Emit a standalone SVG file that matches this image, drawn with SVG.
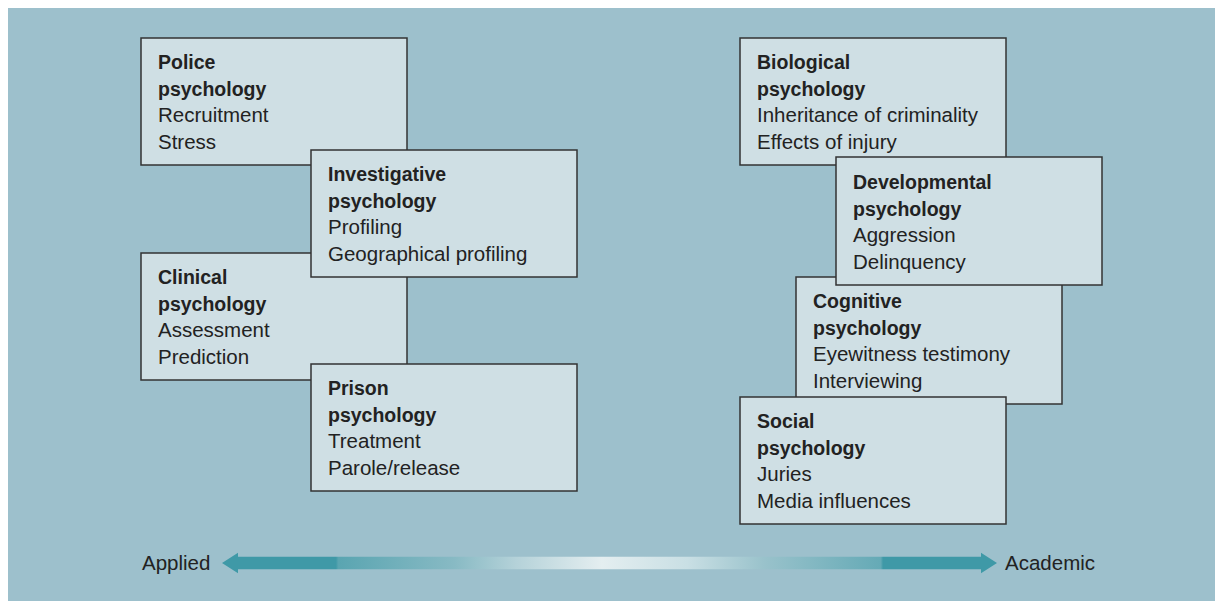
<svg xmlns="http://www.w3.org/2000/svg" width="1215" height="601" viewBox="0 0 1215 601">
<style>
.box{fill:#cfdfe4;stroke:#333;stroke-width:1.5}
.t{font-family:"Liberation Sans",Arial,sans-serif;font-size:20.5px;fill:#222}
.b{font-weight:bold;font-size:19.5px}
</style>
<defs>
<linearGradient id="ag" gradientUnits="userSpaceOnUse" x1="222" y1="0" x2="997" y2="0">
<stop offset="0" stop-color="#3f99a7"/>
<stop offset="0.147" stop-color="#3f99a7"/>
<stop offset="0.15" stop-color="#5aa5b1"/>
<stop offset="0.3" stop-color="#88bac4"/>
<stop offset="0.38" stop-color="#b5d2d9"/>
<stop offset="0.49" stop-color="#e4eef0"/>
<stop offset="0.6" stop-color="#c9dfe4"/>
<stop offset="0.7" stop-color="#99c2cb"/>
<stop offset="0.85" stop-color="#65aab6"/>
<stop offset="0.853" stop-color="#3f99a7"/>
<stop offset="1" stop-color="#3f99a7"/>
</linearGradient>
</defs>
<rect x="8" y="8" width="1207" height="593" fill="#9dc0cc"/>

<g id="police">
<rect class="box" x="141" y="38" width="266" height="127"/>
<text class="t"><tspan class="b" x="158" y="69">Police</tspan><tspan class="b" x="158" y="96">psychology</tspan><tspan x="158" y="122">Recruitment</tspan><tspan x="158" y="149">Stress</tspan></text>
</g>
<g id="clinical">
<rect class="box" x="141" y="253" width="266" height="127"/>
<text class="t"><tspan class="b" x="158" y="284">Clinical</tspan><tspan class="b" x="158" y="311">psychology</tspan><tspan x="158" y="337">Assessment</tspan><tspan x="158" y="364">Prediction</tspan></text>
</g>
<g id="investigative">
<rect class="box" x="311" y="150" width="266" height="127"/>
<text class="t"><tspan class="b" x="328" y="181">Investigative</tspan><tspan class="b" x="328" y="208">psychology</tspan><tspan x="328" y="234">Profiling</tspan><tspan x="328" y="261">Geographical profiling</tspan></text>
</g>
<g id="prison">
<rect class="box" x="311" y="364" width="266" height="127"/>
<text class="t"><tspan class="b" x="328" y="395">Prison</tspan><tspan class="b" x="328" y="422">psychology</tspan><tspan x="328" y="448">Treatment</tspan><tspan x="328" y="475">Parole/release</tspan></text>
</g>

<g id="biological">
<rect class="box" x="740" y="38" width="266" height="127"/>
<text class="t"><tspan class="b" x="757" y="69">Biological</tspan><tspan class="b" x="757" y="96">psychology</tspan><tspan x="757" y="122">Inheritance of criminality</tspan><tspan x="757" y="149">Effects of injury</tspan></text>
</g>
<g id="cognitive">
<rect class="box" x="796" y="277" width="266" height="127"/>
<text class="t"><tspan class="b" x="813" y="308">Cognitive</tspan><tspan class="b" x="813" y="335">psychology</tspan><tspan x="813" y="361">Eyewitness testimony</tspan><tspan x="813" y="388">Interviewing</tspan></text>
</g>
<g id="developmental">
<rect class="box" x="836" y="157" width="266" height="128"/>
<text class="t"><tspan class="b" x="853" y="189">Developmental</tspan><tspan class="b" x="853" y="216">psychology</tspan><tspan x="853" y="242">Aggression</tspan><tspan x="853" y="269">Delinquency</tspan></text>
</g>
<g id="social">
<rect class="box" x="740" y="397" width="266" height="127"/>
<text class="t"><tspan class="b" x="757" y="428">Social</tspan><tspan class="b" x="757" y="455">psychology</tspan><tspan x="757" y="481">Juries</tspan><tspan x="757" y="508">Media influences</tspan></text>
</g>

<g id="connectors">
<path d="M222 563 L238 552.7 L238 556.7 L981 556.7 L981 552.7 L997 563 L981 573.3 L981 569.3 L238 569.3 L238 573.3 Z" fill="url(#ag)"/>
</g>
<text class="t" x="142" y="570">Applied</text>
<text class="t" x="1005" y="570">Academic</text>
</svg>
